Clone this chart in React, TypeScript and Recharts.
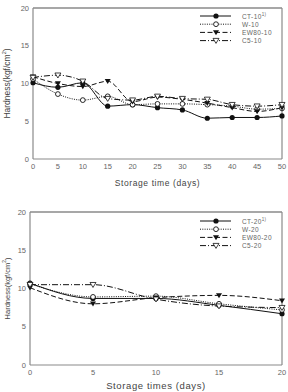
import React from 'react';
import { LineChart, Line, XAxis, YAxis, Legend, ReferenceLine } from 'recharts';

// storage at 10 °C
const DAYS_10 = [0, 5, 10, 15, 20, 25, 30, 35, 40, 45, 50];
const CT_10 = [10.1, 9.5, 10.1, 7.0, 7.2, 6.8, 6.5, 5.4, 5.5, 5.5, 5.7];
const W_10 = [10.6, 8.6, 7.8, 8.3, 7.2, 7.3, 7.3, 7.2, 7.0, 6.6, 6.7];
const EW80_10 = [10.9, 10.0, 9.6, 10.3, 7.6, 8.2, 7.9, 7.4, 6.8, 6.3, 6.8];
const C5_10 = [10.8, 11.1, 10.3, 8.0, 7.8, 8.3, 8.0, 7.9, 7.2, 7.0, 7.2];

// storage at 20 °C
const DAYS_20 = [0, 5, 10, 15, 20];
const CT_20 = [10.7, 8.7, 8.7, 7.8, 6.7];
const W_20 = [10.6, 8.9, 9.0, 8.0, 7.2];
const EW80_20 = [10.1, 8.0, 8.8, 9.1, 8.4];
const C5_20 = [10.5, 10.5, 8.6, 7.7, 7.5];

const Y_TICKS = [0, 5, 10, 15, 20];
const X_TICKS_10 = [0, 5, 10, 15, 20, 25, 30, 35, 40, 45, 50];
const X_TICKS_20 = [0, 5, 10, 15, 20];

type Marker = 'dot' | 'circle' | 'tri' | 'openTri';

interface SeriesStyle {
  dash?: string;
  marker: Marker;
}

const STYLES: SeriesStyle[] = [
  { marker: 'dot' },
  { dash: '1 1.3', marker: 'circle' },
  { dash: '5 2.5', marker: 'tri' },
  { dash: '6 2 1 2', marker: 'openTri' },
];

const INK = '#111';
const AXIS = '#8a8a8a';
const TEXT = '#666';
const FONT = '"Liberation Sans", Arial, sans-serif';

function MarkerShape({ kind, x, y }: { kind: Marker; x: number; y: number }) {
  if (kind === 'dot') return <circle cx={x} cy={y} r={2.6} fill={INK} />;
  if (kind === 'circle') return <circle cx={x} cy={y} r={2.4} fill="#fff" stroke={INK} strokeWidth={0.9} />;
  const d = `M${x - 3},${y - 2.2} L${x + 3},${y - 2.2} L${x},${y + 2.8} Z`;
  if (kind === 'tri') return <path d={d} fill={INK} />;
  return <path d={d} fill="#fff" stroke={INK} strokeWidth={0.8} />;
}

interface Series {
  key: string;
  name: string;
  values: number[];
}

function LegendBox({ series }: { series: Series[] }) {
  return (
    <svg width={90} height={36} style={{ display: 'block', overflow: 'visible' }}>
      {series.map((s, i) => {
        const st = STYLES[i];
        const y = 5 + i * 8.2;
        return (
          <g key={s.key}>
            <line x1={4} x2={35} y1={y} y2={y} stroke={INK} strokeWidth={1} strokeDasharray={st.dash} />
            <MarkerShape kind={st.marker} x={20} y={y} />
            <text x={46} y={y} dominantBaseline="central" fontSize={6.5} fill={TEXT} fontFamily={FONT} letterSpacing={0.4}>
              {s.name}
              {i === 0 && (
                <tspan dy={-2.5} fontSize={4.5}>1)</tspan>
              )}
            </text>
          </g>
        );
      })}
    </svg>
  );
}

interface ChartProps {
  days: number[];
  series: Series[];
  xTicks: number[];
  xLabel: string;
  width: number;
  height: number;
  margin: { top: number; right: number; left: number; bottom: number };
  yAxisWidth: number;
  xAxisHeight: number;
  xLabelOffset: number;
  xLabelSize: number;
  yLabelX: number;
  yLabelSize: number;
  legendTop: number;
}

function HardnessChart(p: ChartProps) {
  const rows = p.days.map((d, i) => {
    const row: Record<string, number> = { day: d };
    p.series.forEach((s) => (row[s.key] = s.values[i]));
    return row;
  });
  const xMax = p.days[p.days.length - 1];

  const yLabel = (props: any) => {
    const vb = props.viewBox || { y: 0, height: 0 };
    const cy = vb.y + vb.height / 2;
    const cx = p.yLabelX;
    return (
      <text
        x={cx}
        y={cy}
        transform={`rotate(-90 ${cx} ${cy})`}
        textAnchor="middle"
        dominantBaseline="central"
        fontSize={p.yLabelSize}
        fill="#444"
        fontFamily={FONT}
      >
        Hardness(kgf/cm<tspan dy={-3} fontSize={p.yLabelSize * 0.65}>2</tspan>
        <tspan dy={3}>)</tspan>
      </text>
    );
  };

  const tickStyle = { fontSize: 7.5, fill: TEXT, fontFamily: FONT };

  return (
    <LineChart width={p.width} height={p.height} data={rows} margin={p.margin}>
      <XAxis
        dataKey="day"
        type="number"
        domain={[0, xMax]}
        ticks={p.xTicks}
        interval={0}
        height={p.xAxisHeight}
        tickLine={false}
        tickSize={4}
        tickMargin={1}
        axisLine={{ stroke: AXIS, strokeWidth: 1.2 }}
        tick={tickStyle}
        label={{
          value: p.xLabel,
          position: 'insideBottom',
          offset: p.xLabelOffset,
          fontSize: p.xLabelSize,
          fill: '#444',
          fontFamily: FONT,
          letterSpacing: 0.6,
        }}
      />
      <YAxis
        domain={[0, 20]}
        ticks={Y_TICKS}
        interval={0}
        width={p.yAxisWidth}
        tickLine={false}
        tickSize={3}
        tickMargin={1}
        axisLine={{ stroke: AXIS, strokeWidth: 1.2 }}
        tick={tickStyle}
        label={yLabel}
      />
      {/* frame: top and right edges of the plot box */}
      <ReferenceLine y={20} stroke={AXIS} strokeWidth={1.4} />
      <ReferenceLine x={xMax} stroke={AXIS} strokeWidth={1.2} />
      <Legend
        layout="vertical"
        align="center"
        verticalAlign="middle"
        wrapperStyle={{ position: 'absolute', left: 196, top: p.legendTop, width: 90 }}
        content={() => <LegendBox series={p.series} />}
      />
      {p.series.map((s, i) => {
        const st = STYLES[i];
        return (
          <Line
            key={s.key}
            dataKey={s.key}
            name={s.name}
            type="monotone"
            stroke={INK}
            strokeWidth={1}
            strokeDasharray={st.dash}
            isAnimationActive={false}
            dot={(dp: any) => <MarkerShape key={`${s.key}-${dp.index}`} kind={st.marker} x={dp.cx} y={dp.cy} />}
            activeDot={false}
          />
        );
      })}
    </LineChart>
  );
}

const SERIES_10: Series[] = [
  { key: 'ct', name: 'CT-10', values: CT_10 },
  { key: 'w', name: 'W-10', values: W_10 },
  { key: 'ew', name: 'EW80-10', values: EW80_10 },
  { key: 'c5', name: 'C5-10', values: C5_10 },
];

const SERIES_20: Series[] = [
  { key: 'ct', name: 'CT-20', values: CT_20 },
  { key: 'w', name: 'W-20', values: W_20 },
  { key: 'ew', name: 'EW80-20', values: EW80_20 },
  { key: 'c5', name: 'C5-20', values: C5_20 },
];

export default function App() {
  return (
    <div style={{ position: 'absolute', left: 0, top: 0, width: 288, height: 392, background: '#fff' }}>
      <div style={{ position: 'absolute', left: 0, top: 0 }}>
        <HardnessChart
          days={DAYS_10}
          series={SERIES_10}
          xTicks={X_TICKS_10}
          xLabel="Storage time (days)"
          width={288}
          height={196}
          margin={{ top: 8, right: 6, left: 0, bottom: 0 }}
          yAxisWidth={33}
          xAxisHeight={37}
          xLabelOffset={10}
          xLabelSize={8.5}
          yLabelX={7}
          yLabelSize={8.5}
          legendTop={11}
        />
      </div>
      <div style={{ position: 'absolute', left: 0, top: 200 }}>
        <HardnessChart
          days={DAYS_20}
          series={SERIES_20}
          xTicks={X_TICKS_20}
          xLabel="Storage times (days)"
          width={288}
          height={192}
          margin={{ top: 12, right: 6, left: 0, bottom: 0 }}
          yAxisWidth={30}
          xAxisHeight={27}
          xLabelOffset={3}
          xLabelSize={9.5}
          yLabelX={7}
          yLabelSize={7.5}
          legendTop={16}
        />
      </div>
    </div>
  );
}
